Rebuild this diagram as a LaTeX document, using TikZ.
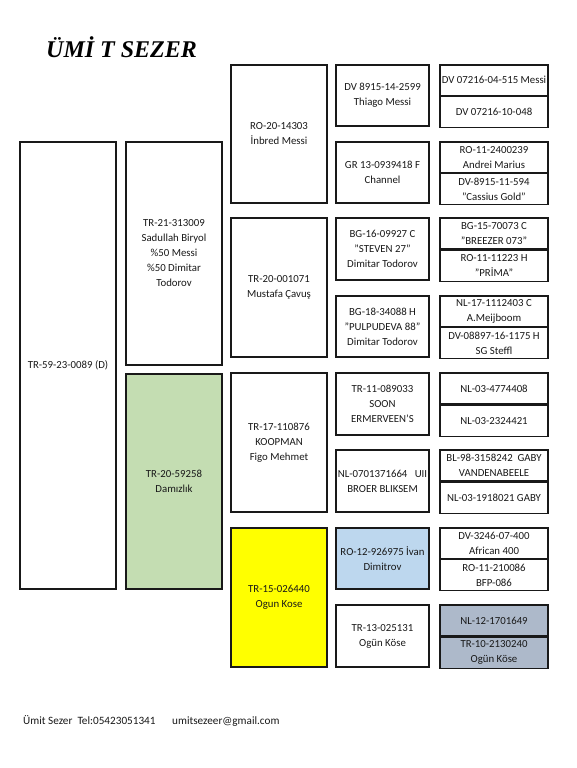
\documentclass[tikz,border=0pt]{standalone}
\usepackage{fontspec}
\setmainfont{Carlito}
\newfontfamily\titlefont{Liberation Serif}
\definecolor{cgreen}{HTML}{C4DDB2}
\definecolor{cblue}{HTML}{BDD7EE}
\definecolor{cgrey}{HTML}{ADB9CA}
\definecolor{cyel}{HTML}{FFFF00}
\tikzset{
  cell/.style={draw=black!90, line width=1.2pt, rectangle, inner sep=0pt, align=center,
    font=\fontsize{10.8}{15}\selectfont, text=black!90},
  halfcell/.style={cell, minimum width=108pt},
  c4cell/.style={cell, minimum width=93pt},
  bigcell/.style={cell, minimum width=96pt},
  foot/.style={anchor=base west, inner sep=0pt, font=\fontsize{11.2}{15}\selectfont, text=black!90},
}
\newcommand\pairbox[6]{%
  \node[halfcell, minimum height=#3pt, fill=#6] (#1a) at (494,{#2+#3/2}) {#4};
  \node[halfcell, minimum height=#3pt, fill=#6, anchor=north] (#1b) at (#1a.south) {#5};
}
\begin{document}
\begin{tikzpicture}[x=1pt,y=-1pt]
\useasboundingbox (0,0) rectangle (577,768);
\fill[white] (0,0) rectangle (577,768);
% title
\node[anchor=base west, inner sep=0pt, font=\titlefont\bfseries\itshape\fontsize{24}{24}\selectfont] (title) at (46,57) {ÜMİ T SEZER};
% column 1
\node[bigcell, minimum height=447pt] (g1) at (68,365.5) {TR-59-23-0089 (D)};
% column 2
\node[bigcell, minimum height=223pt] (g2a) at (174,253.5) {TR-21-313009\\Sadullah Biryol\\\%50 Messi\\\%50 Dimitar\\Todorov};
\node[bigcell, minimum height=215pt, fill=cgreen] (g2b) at (174,481.5) {TR-20-59258\\Damızlık};
% column 3
\node[bigcell, minimum height=138pt] (g3a) at (279,134) {RO-20-14303\\İnbred Messi};
\node[bigcell, minimum height=139pt] (g3b) at (279,287.5) {TR-20-001071\\Mustafa Çavuş};
\node[bigcell, minimum height=139pt] (g3c) at (279,442.5) {TR-17-110876\\KOOPMAN\\Figo Mehmet};
\node[bigcell, minimum height=139pt, fill=cyel] (g3d) at (279,597.5) {TR-15-026440\\Ogun Kose};
% column 4
\node[c4cell, minimum height=61pt] (g4a) at (382.5,95.5) {DV 8915-14-2599\\Thiago Messi};
\node[c4cell, minimum height=61pt] (g4b) at (382.5,172.5) {GR 13-0939418 F\\Channel};
\node[c4cell, minimum height=62pt] (g4c) at (382.5,249) {BG-16-09927 C\\"STEVEN 27"\\Dimitar Todorov};
\node[c4cell, minimum height=61pt] (g4d) at (382.5,326.5) {BG-18-34088 H\\"PULPUDEVA 88"\\Dimitar Todorov};
\node[c4cell, minimum height=62pt] (g4e) at (382.5,404) {TR-11-089033\\SOON\\ERMERVEEN'S};
\node[c4cell, minimum height=62pt] (g4f) at (382.5,481) {NL-0701371664\ \ \ UII\\BROER BLIKSEM};
\node[c4cell, minimum height=61pt, fill=cblue] (g4g) at (382.5,558.5) {RO-12-926975 İvan\\Dimitrov};
\node[c4cell, minimum height=62pt] (g4h) at (382.5,636) {TR-13-025131\\Ogün Köse};
% column 5
\pairbox{p1}{65}{30.5}{DV 07216-04-515 Messi}{DV 07216-10-048}{white}
\pairbox{p2}{142}{30.5}{RO-11-2400239\\Andrei Marius}{DV-8915-11-594\\"Cassius Gold"}{white}
\pairbox{p3}{218}{31}{BG-15-70073 C\\"BREEZER 073"}{RO-11-11223 H\\"PRİMA"}{white}
\pairbox{p4}{296}{30.5}{NL-17-1112403 C\\A.Meijboom}{DV-08897-16-1175 H\\SG Steffl}{white}
\pairbox{p5}{373}{31}{NL-03-4774408}{NL-03-2324421}{white}
\pairbox{p6}{450}{31}{BL-98-3158242\ \ GABY\\VANDENABEELE}{NL-03-1918021 GABY}{white}
\pairbox{p7}{528}{30.5}{DV-3246-07-400\\African 400}{RO-11-210086\\BFP-086}{white}
\pairbox{p8}{605}{31}{NL-12-1701649}{TR-10-2130240\\Ogün Köse}{cgrey}
% footer
\node[foot] (foot1) at (23,724) {Ümit Sezer\ \ Tel:05423051341};
\node[foot] (foot2) at (172,724) {umitsezeer@gmail.com};
\end{tikzpicture}
\end{document}
